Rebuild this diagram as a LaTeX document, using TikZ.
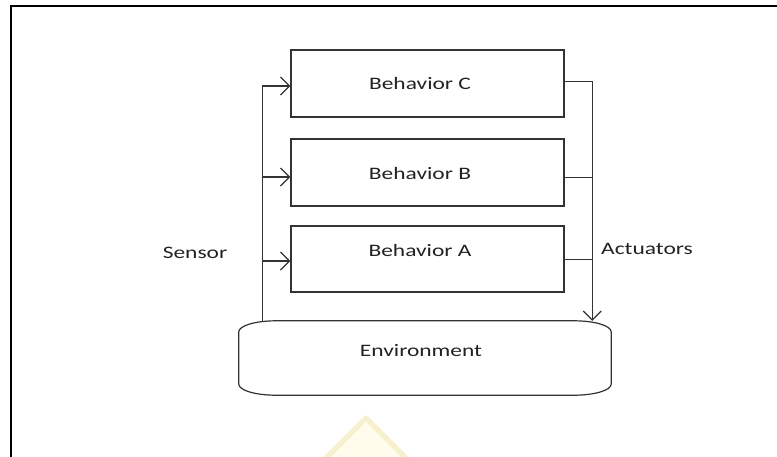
\documentclass[tikz,border=0pt]{standalone}
\usepackage{fontspec}
\setmainfont{Carlito}
\usepackage{graphicx}
\usetikzlibrary{arrows.meta,calc}
\definecolor{ink}{HTML}{333333}
\definecolor{textink}{HTML}{222222}
\definecolor{wmline}{rgb}{0.97,0.94,0.80}
\definecolor{wmfill}{rgb}{1,0.99,0.92}
\newcommand\widetext[1]{\scalebox{1.34}[1]{#1}}
\tikzset{
  box/.style={draw=ink, line width=1.3pt, minimum width=273pt, minimum height=67pt, inner sep=0pt},
  envarea/.style={draw=none, minimum width=372pt, minimum height=74pt, inner sep=0pt},
  lbl/.style={text=textink, font=\fontsize{17.5}{20}\selectfont, inner sep=0pt},
  wire/.style={draw=ink, line width=1.2pt},
  feed/.style={wire, -{Straight Barb[length=9pt,width=18pt]}},
}
\begin{document}
\begin{tikzpicture}[x=1pt,y=-1pt]
\useasboundingbox (0,0) rectangle (777,456);
\fill[white] (0,0) rectangle (777,456);

% faint emblem near the bottom edge
\filldraw[fill=wmfill, draw=wmline, line width=5pt, line join=round] (366,418) -- (410,462) -- (322,462) -- cycle;

% outer frame
\begin{scope}
  \clip (0,0) rectangle (777,456);
  \draw[line width=2pt] (11,5.5) rectangle (795,475);
\end{scope}

% behaviour boxes
\node[box] (bc) at (427.5,83.5) {};
\node[box] (bb) at (427.5,172.5) {};
\node[box, minimum height=66pt] (ba) at (427.5,259) {};

% environment
\node[envarea] (env) at (425,358) {};
\draw[wire] ($(env.north west)+(37,0)$) -- ($(env.north east)+(-37,0)$)
  arc[start angle=-90, end angle=0, x radius=37, y radius=11]
  -- ($(env.south east)+(0,-11)$)
  arc[start angle=0, end angle=90, x radius=37, y radius=11]
  -- ($(env.south west)+(37,0)$)
  arc[start angle=90, end angle=180, x radius=37, y radius=11]
  -- ($(env.north west)+(0,11)$)
  arc[start angle=180, end angle=270, x radius=37, y radius=11]
  -- cycle;

% labels
\node[lbl] (tc) at (420,83) {\widetext{Behavior C}};
\node[lbl] (tb) at (420,173) {\widetext{Behavior B}};
\node[lbl] (ta) at (420,250) {\widetext{Behavior A}};
\node[lbl] (tenv) at (421,351) {\widetext{Environment}};
\node[lbl] (tsens) at (195,253) {\widetext{Sensor}};
\node[lbl] (tact) at (647,249) {\widetext{Actuators}};

% sensor side
\coordinate (s0) at ($(env.north west)+(24,0)$);
\coordinate (ci) at ($(bc.west)+(0,2.5)$);
\coordinate (bi) at ($(bb.west)+(0,4.5)$);
\coordinate (ai) at ($(ba.west)+(0,2)$);
\draw[feed] (s0) |- (ci);
\draw[feed] (s0 |- bi) -- (bi);
\draw[feed] (s0 |- ai) -- (ai);

% actuator side
\coordinate (a0) at ($(env.north east)+(-19,0)$);
\coordinate (co) at ($(bc.east)+(0,-2)$);
\coordinate (bo) at ($(bb.east)+(0,5)$);
\coordinate (ao) at ($(ba.east)+(0,0.5)$);
\draw[feed] (co) -| (a0);
\draw[wire] (bo) -- (a0 |- bo);
\draw[wire] (ao) -- (a0 |- ao);
\end{tikzpicture}
\end{document}
